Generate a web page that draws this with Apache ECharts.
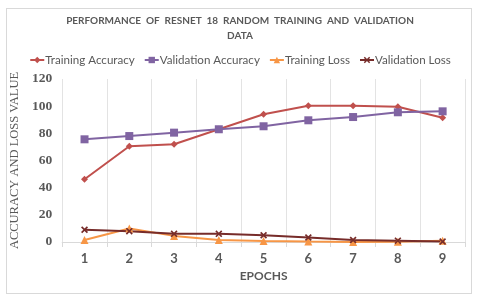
<!DOCTYPE html>
<html><head><meta charset="utf-8">
<script src="https://cdn.jsdelivr.net/npm/echarts@6/dist/echarts.min.js"></script>
<style>html,body{margin:0;padding:0;background:#fff}#c{width:480px;height:300px}
#frame{position:absolute;left:6px;top:8px;width:466px;height:286px;border:1px solid #d9d9d9;box-sizing:border-box;pointer-events:none}</style>
</head><body><div id="c"></div><div id="frame"></div>
<script>
var epochs = ['1','2','3','4','5','6','7','8','9'];
var trainingAccuracy = [46.2, 70.5, 72, 83, 94, 100.3, 100.3, 99.6, 91.5];
var validationAccuracy = [75.6, 78, 80.5, 83, 85.2, 89.6, 92, 95.5, 96.2];
var trainingLoss = [1.5, 10, 4.5, 1.5, 0.8, 0.3, 0, 0.2, 1];
var validationLoss = [9, 8, 6, 6, 5, 3.3, 1.5, 1, 0.3];
var yTicks = [0, 20, 40, 60, 80, 100, 120];

var chart = echarts.init(document.getElementById('c'));
function s(name, data, color, symbol, size){
  return {name:name, type:'line', data:data, symbol:symbol, symbolSize:size,
    itemStyle:{color:color}, lineStyle:{color:color, width:2}, z: 3};
}
chart.setOption({
  animation:false,
  title:{text:'PERFORMANCE  OF  RESNET  18  RANDOM  TRAINING  AND  VALIDATION\nDATA', left:'center', top:8,
    textStyle:{fontFamily:'Lato', fontWeight:'bold', fontSize:10, color:'#595959', lineHeight:15}},
  legend:{top:49, left:'center', itemGap:9, itemWidth:14, itemHeight:8,
    textStyle:{fontFamily:'Lato', fontSize:11.6, color:'#595959', padding:[0,0,0,-4]},
    data:['Training Accuracy','Validation Accuracy','Training Loss','Validation Loss']},
  grid:{left:58, right:15, top:79, bottom:58},
  xAxis:{type:'category', data:epochs, boundaryGap:true,
    name:'EPOCHS', nameLocation:'middle', nameGap:28,
    nameTextStyle:{fontFamily:'Lato', fontWeight:'bold', fontSize:12, color:'#595959'},
    axisLine:{lineStyle:{color:'#d9d9d9'}},
    axisTick:{show:true, length:5, lineStyle:{color:'#d9d9d9'}},
    axisLabel:{fontFamily:'Lato', fontWeight:'bold', fontSize:13, color:'#595959', margin:10},
    splitLine:{show:true, lineStyle:{color:'#e3e3e3'}}},
  yAxis:{type:'value', min:0, max:120, interval:20,
    name:'ACCURACY AND LOSS VALUE', nameLocation:'middle', nameGap:36, nameRotate:90,
    nameTextStyle:{fontFamily:'Liberation Serif', fontSize:12.5, color:'#595959'},
    axisLine:{show:false}, axisTick:{show:false},
    axisLabel:{fontFamily:'Liberation Serif', fontWeight:'bold', fontSize:13.5, color:'#595959', margin:10,
      formatter:function(v){return yTicks.indexOf(v)>=0?String(v):'';}},
    splitLine:{show:false}},
  series:[
    s('Training Accuracy', trainingAccuracy, '#C0504D', 'diamond', 7),
    s('Validation Accuracy', validationAccuracy, '#8064A2', 'rect', 8),
    s('Training Loss', trainingLoss, '#F79646', 'triangle', 8),
    s('Validation Loss', validationLoss, '#772C2A', 'path://M0,0 L4,4 L8,0 L10,2 L6,6 L10,10 L8,12 L4,8 L0,12 L-2,10 L2,6 L-2,2 Z', 7)
  ]
});
</script></body></html>
